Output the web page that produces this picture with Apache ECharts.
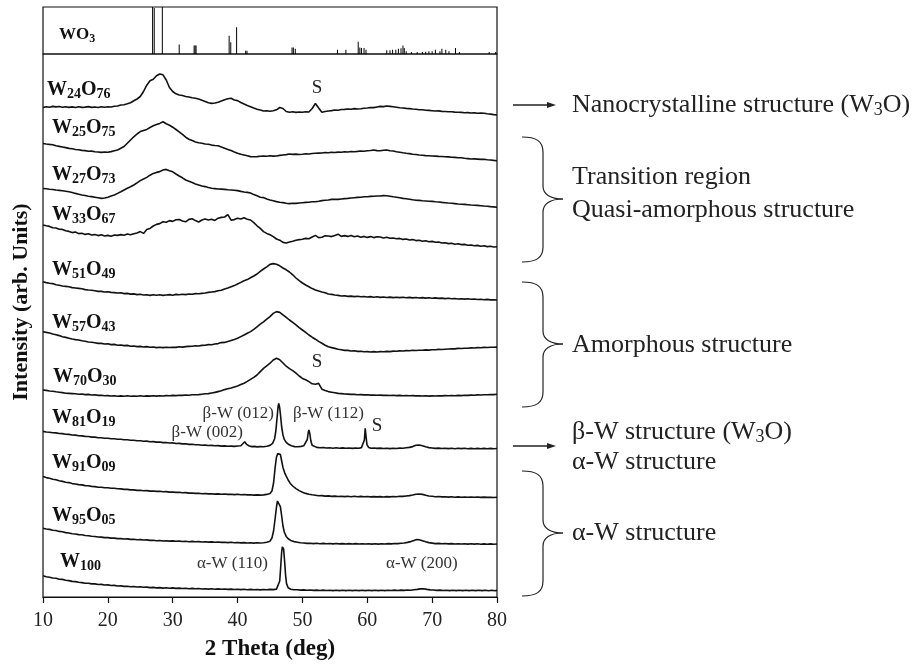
<!DOCTYPE html>
<html>
<head>
<meta charset="utf-8">
<title>XRD patterns of W-O films</title>
<script src="https://cdn.jsdelivr.net/npm/echarts@6/dist/echarts.min.js"></script>
<style>
html, body { margin: 0; background: #fff; }
#chart { width: 916px; height: 665px; }
</style>
</head>
<body>
<div id="chart"></div>
<script>
// 2 theta scan grid (deg), shared by the broad patterns
var theta = [
  10, 10.5, 11, 11.5, 12, 12.5, 13, 13.5, 14, 14.5,
  15, 15.5, 16, 16.5, 17, 17.5, 18, 18.5, 19, 19.5,
  20, 20.5, 21, 21.5, 22, 22.5, 23, 23.5, 24, 24.5,
  25, 25.5, 26, 26.5, 27, 27.5, 28, 28.5, 29, 29.5,
  30, 30.5, 31, 31.5, 32, 32.5, 33, 33.5, 34, 34.5,
  35, 35.5, 36, 36.5, 37, 37.5, 38, 38.5, 39, 39.5,
  40, 40.5, 41, 41.5, 42, 42.5, 43, 43.5, 44, 44.5,
  45, 45.5, 46, 46.5, 47, 47.5, 48, 48.5, 49, 49.5,
  50, 50.5, 51, 51.5, 52, 52.5, 53, 53.5, 54, 54.5,
  55, 55.5, 56, 56.5, 57, 57.5, 58, 58.5, 59, 59.5,
  60, 60.5, 61, 61.5, 62, 62.5, 63, 63.5, 64, 64.5,
  65, 65.5, 66, 66.5, 67, 67.5, 68, 68.5, 69, 69.5,
  70, 70.5, 71, 71.5, 72, 72.5, 73, 73.5, 74, 74.5,
  75, 75.5, 76, 76.5, 77, 77.5, 78, 78.5, 79, 79.5,
  80
];

// stacked intensities (arb. units), offset for display
var w24o76 = [
  489.5, 490.3, 489.8, 490.6, 490.1, 490.5, 489.7, 490.2, 489.6, 490.1,
  489.5, 490.2, 489.6, 489.9, 490.4, 489.6, 490.0, 489.5, 490.3, 489.8,
  490.2, 490.0, 490.8, 491.0, 492.0, 492.3, 493.2, 494.2, 496.2, 498.0,
  500.5, 505.5, 511.8, 516.2, 517.8, 521.2, 523.0, 522.2, 517.0, 509.5,
  505.5, 503.2, 502.0, 501.5, 500.5, 500.0, 499.2, 498.8, 498.0, 496.8,
  495.5, 494.2, 493.6, 494.0, 494.8, 496.0, 497.2, 498.2, 498.8, 497.0,
  496.4, 494.5, 493.0, 491.5, 490.3, 489.0, 487.8, 486.9, 486.0, 486.3,
  485.8, 486.2, 487.2, 489.5, 488.5, 485.5, 484.8, 485.2, 484.6, 485.0,
  484.7, 485.2, 485.0, 488.5, 493.5, 489.0, 484.8, 485.5, 486.0, 486.4,
  487.0, 486.8, 487.5, 487.6, 488.0, 487.7, 488.4, 488.0, 488.3, 488.8,
  489.0, 489.5, 489.4, 490.0, 490.6, 490.4, 491.0, 490.6, 490.2, 489.8,
  489.3, 489.0, 488.6, 488.4, 488.0, 487.8, 487.3, 487.2, 486.8, 486.6,
  486.3, 486.0, 486.1, 485.6, 485.5, 485.3, 485.3, 484.9, 484.8, 484.6,
  484.3, 484.4, 484.0, 484.1, 483.8, 483.9, 483.7, 483.2, 482.9, 482.4,
  482.0
];
var w25o75 = [
  453.5, 453.0, 452.6, 452.3, 451.2, 450.6, 450.0, 449.4, 448.6, 448.2,
  447.5, 447.2, 446.6, 446.4, 445.8, 445.9, 445.2, 445.0, 444.6, 445.0,
  444.7, 445.4, 446.2, 447.0, 448.8, 450.5, 453.8, 457.0, 460.2, 463.0,
  465.4, 466.5, 467.6, 469.5, 471.2, 472.4, 473.6, 475.2, 473.2, 471.8,
  469.8, 467.5, 465.2, 462.6, 459.8, 457.8, 456.4, 455.0, 454.2, 453.8,
  453.0, 452.8, 451.9, 451.5, 451.2, 450.0, 448.8, 447.6, 446.4, 445.0,
  443.8, 442.8, 442.0, 441.2, 440.4, 440.2, 440.4, 440.8, 441.0, 440.7,
  441.2, 440.9, 441.0, 441.6, 442.0, 442.4, 443.0, 442.6, 442.9, 442.5,
  442.7, 443.2, 443.0, 443.5, 443.7, 443.9, 444.0, 444.5, 444.3, 444.8,
  444.5, 444.9, 444.7, 445.2, 445.0, 445.5, 445.3, 445.6, 446.0, 445.8,
  446.3, 446.5, 447.0, 446.4, 446.3, 446.8, 447.0, 446.3, 446.0, 445.2,
  444.8, 444.2, 443.7, 443.4, 442.8, 442.5, 442.0, 441.8, 441.4, 441.2,
  441.0, 440.9, 440.6, 440.5, 440.3, 440.1, 439.8, 439.6, 439.3, 439.2,
  438.7, 438.4, 438.0, 438.1, 437.9, 437.6, 437.7, 437.3, 437.0, 436.6,
  436.3
];
var w27o73 = [
  408.5, 408.2, 407.8, 407.5, 407.0, 406.6, 406.2, 405.8, 405.2, 404.5,
  403.6, 402.8, 402.0, 401.5, 400.8, 400.4, 399.8, 399.2, 398.6, 399.0,
  399.8, 401.0, 402.0, 403.6, 405.2, 407.0, 408.8, 410.2, 412.0, 414.2,
  416.4, 418.0, 419.6, 421.8, 423.6, 424.6, 425.4, 427.0, 427.6, 426.2,
  425.2, 423.0, 421.0, 419.2, 417.0, 415.8, 414.4, 413.0, 412.0, 411.0,
  410.4, 409.5, 408.8, 408.4, 408.0, 407.9, 407.6, 407.2, 407.0, 406.8,
  406.4, 405.6, 405.0, 404.6, 404.0, 402.4, 401.2, 399.8, 399.4, 398.0,
  397.0, 396.2, 395.4, 394.8, 394.4, 393.8, 393.4, 393.8, 393.6, 394.0,
  394.3, 394.6, 394.8, 395.2, 395.3, 395.8, 396.4, 396.8, 397.0, 397.6,
  397.8, 397.6, 398.0, 398.4, 398.6, 399.0, 399.3, 399.6, 399.8, 400.2,
  400.3, 400.6, 400.8, 401.0, 401.0, 401.4, 401.3, 400.8, 400.2, 399.8,
  399.2, 398.6, 398.2, 397.8, 397.2, 396.8, 396.6, 396.2, 396.0, 395.8,
  395.6, 395.2, 395.0, 394.6, 394.3, 394.0, 393.8, 393.4, 393.0, 392.8,
  392.6, 392.3, 392.0, 391.8, 391.6, 391.3, 391.0, 390.8, 390.4, 390.1,
  389.7
];
var w33o67 = [
  372.0, 371.2, 370.6, 369.2, 369.0, 367.8, 367.6, 366.2, 365.6, 364.4,
  365.0, 363.4, 363.8, 362.6, 363.2, 362.0, 362.4, 361.4, 362.2, 361.0,
  361.6, 360.8, 362.0, 361.6, 362.4, 361.8, 363.0, 362.2, 363.2, 364.0,
  365.4, 363.6, 367.4, 368.6, 371.0, 372.6, 373.4, 375.2, 374.8, 376.4,
  375.6, 377.2, 377.4, 376.0, 375.2, 377.6, 378.2, 376.4, 375.0, 377.0,
  378.0, 377.0, 377.8, 376.6, 378.8, 379.6, 380.0, 382.4, 376.8, 377.4,
  378.8, 378.0, 379.2, 377.8, 377.0, 374.4, 371.2, 368.6, 365.4, 363.6,
  362.2, 360.4, 358.0, 356.8, 354.6, 354.0, 355.0, 355.8, 356.8, 357.4,
  357.8, 358.6, 358.2, 360.0, 361.6, 359.4, 359.8, 361.2, 361.0, 360.4,
  361.6, 362.8, 360.6, 361.4, 360.6, 361.6, 360.2, 361.0, 359.8, 360.6,
  359.6, 360.4, 359.4, 360.2, 360.0, 359.0, 359.8, 358.8, 359.0, 358.2,
  358.6, 357.6, 358.0, 357.0, 357.4, 356.4, 356.8, 355.8, 356.2, 355.2,
  355.6, 354.8, 355.0, 354.0, 354.2, 353.4, 353.8, 352.8, 353.2, 352.4,
  352.6, 351.8, 352.0, 351.2, 351.6, 350.8, 351.2, 350.4, 350.8, 350.0,
  350.3
];
var w51o49 = [
  315.2, 314.4, 313.8, 313.4, 312.2, 311.8, 311.0, 310.6, 310.2, 309.4,
  309.0, 308.6, 308.2, 307.4, 307.0, 306.8, 306.2, 305.6, 305.6, 305.0,
  305.2, 304.6, 304.4, 304.0, 304.2, 303.4, 303.6, 302.9, 303.1, 302.4,
  302.8, 302.0, 302.3, 301.6, 302.2, 301.8, 302.2, 301.6, 302.0, 302.4,
  301.8, 302.6, 302.2, 302.8, 302.4, 303.0, 302.8, 303.4, 303.2, 303.6,
  304.0, 304.6, 305.0, 305.4, 306.2, 306.8, 308.0, 309.0, 310.2, 311.4,
  313.0, 314.6, 316.2, 317.4, 319.2, 321.0, 323.0, 325.6, 328.0, 330.2,
  332.6, 333.4, 332.8, 331.2, 329.0, 327.2, 325.0, 322.2, 319.0, 316.4,
  314.0, 312.0, 310.2, 308.4, 307.0, 306.0, 305.0, 304.2, 303.0, 302.6,
  302.0, 301.6, 301.0, 301.2, 300.6, 300.9, 300.4, 300.8, 300.2, 300.5,
  300.0, 300.4, 299.8, 300.2, 299.6, 300.0, 299.5, 299.9, 299.4, 299.8,
  299.4, 299.7, 299.2, 299.6, 299.1, 299.5, 299.0, 299.4, 298.9, 299.2,
  298.8, 299.1, 298.6, 298.9, 298.4, 298.7, 298.2, 298.5, 298.0, 298.3,
  297.9, 298.2, 297.7, 298.0, 297.5, 297.8, 297.3, 297.6, 297.1, 297.3,
  297.0
];
var w57o43 = [
  265.2, 264.6, 264.0, 263.0, 262.2, 261.4, 260.2, 259.6, 258.8, 258.0,
  257.4, 257.0, 256.2, 255.8, 255.0, 254.8, 254.2, 253.6, 253.6, 253.0,
  253.2, 252.4, 252.6, 251.8, 252.0, 251.4, 251.6, 250.8, 251.0, 250.4,
  250.6, 250.0, 250.4, 249.8, 250.0, 249.4, 249.8, 249.4, 249.8, 249.5,
  249.8, 249.6, 250.2, 249.9, 250.4, 250.6, 250.8, 251.2, 251.0, 251.6,
  251.8, 252.4, 252.2, 253.0, 253.4, 254.4, 254.6, 255.6, 256.6, 257.6,
  258.8, 260.4, 262.0, 263.8, 265.4, 267.6, 270.2, 272.8, 275.2, 277.8,
  280.4, 283.6, 285.4, 284.6, 282.2, 279.6, 277.0, 274.6, 272.2, 269.4,
  267.0, 264.6, 262.0, 259.8, 257.8, 255.6, 253.8, 251.8, 250.2, 249.4,
  248.6, 247.8, 247.2, 246.6, 246.6, 246.0, 246.2, 245.6, 245.8, 245.2,
  245.4, 245.0, 245.4, 245.0, 245.4, 245.2, 245.6, 245.4, 245.9, 245.7,
  246.1, 246.0, 246.4, 246.2, 246.7, 246.5, 246.8, 246.7, 247.1, 246.9,
  247.2, 247.3, 247.6, 247.5, 247.8, 248.0, 248.2, 248.1, 248.6, 248.5,
  248.8, 248.8, 249.1, 249.0, 249.4, 249.3, 249.6, 249.5, 249.8, 249.7,
  249.9
];
var w70o30 = [
  207.0, 206.6, 206.0, 205.8, 205.2, 204.8, 204.4, 203.8, 203.6, 203.4,
  203.2, 202.8, 203.0, 202.4, 202.6, 202.0, 202.2, 201.6, 201.8, 201.2,
  201.4, 201.0, 201.3, 200.8, 201.1, 200.8, 201.2, 200.7, 201.0, 200.8,
  201.2, 200.8, 201.1, 200.9, 201.3, 200.9, 201.2, 201.0, 201.4, 201.2,
  201.6, 201.4, 201.8, 201.6, 202.0, 201.8, 202.2, 202.2, 202.4, 202.8,
  203.2, 203.4, 204.0, 204.6, 205.4, 206.2, 207.4, 208.2, 209.0, 210.0,
  211.0, 212.4, 213.8, 215.6, 217.6, 219.6, 222.0, 225.4, 228.6, 231.2,
  233.8, 237.0, 238.8, 237.2, 234.0, 230.8, 228.4, 226.4, 223.8, 221.0,
  218.6, 217.2, 215.4, 213.2, 212.8, 213.6, 207.8, 206.4, 205.4, 204.8,
  204.2, 203.6, 203.4, 203.0, 202.9, 202.6, 202.6, 202.3, 202.4, 202.1,
  202.2, 201.9, 202.0, 201.7, 201.9, 201.6, 201.8, 201.5, 201.7, 201.4,
  201.6, 201.3, 201.5, 201.2, 201.4, 201.1, 201.3, 201.0, 201.2, 200.9,
  201.1, 201.0, 201.3, 201.1, 201.4, 201.2, 201.5, 201.3, 201.6, 201.4,
  201.7, 201.6, 201.9, 201.8, 202.1, 202.0, 202.3, 202.2, 202.5, 202.4,
  202.7
];

// crystalline films: [2theta, stacked intensity], denser around the sharp peaks
var w81o19 = [
  [10,165.6],[10.5,165.0],[11,164.8],[11.5,164.2],[12,164.1],[12.5,163.5],[13,163.4],[13.5,162.7],[14,162.6],[14.5,162.0],
  [15,161.9],[15.5,161.2],[16,161.1],[16.5,160.6],[17,160.5],[17.5,159.9],[18,159.9],[18.5,159.3],[19,159.3],[19.5,158.7],
  [20,158.8],[20.5,158.2],[21,158.2],[21.5,157.7],[22,157.8],[22.5,157.2],[23,157.3],[23.5,156.7],[24,156.8],[24.5,156.2],
  [25,156.3],[25.5,155.8],[26,155.9],[26.5,155.3],[27,155.4],[27.5,154.9],[28,155.0],[28.5,154.4],[29,154.5],[29.5,154.0],
  [30,154.1],[30.5,153.5],[31,153.6],[31.5,153.1],[32,153.2],[32.5,152.6],[33,152.7],[33.5,152.2],[34,152.3],[34.5,151.8],
  [35,151.9],[35.5,151.5],[36,151.6],[36.5,151.2],[37,151.4],[37.5,150.9],[38,151.1],[38.5,150.7],[39,150.9],[39.5,150.6],
  [40,151.0],[40.5,151.3],[40.8,153.0],[41.1,155.2],[41.4,152.6],[41.8,151.0],[42.2,150.4],[42.6,150.6],[43,150.1],[43.5,150.4],
  [44,150.2],[44.5,150.8],[45,151.6],[45.4,153.6],[45.7,158.0],[45.9,166.0],[46.1,180.0],[46.25,190.5],[46.35,193.6],[46.5,189.0],
  [46.65,180.0],[46.8,170.0],[47,162.0],[47.2,157.6],[47.5,154.6],[47.9,152.4],[48.3,151.2],[48.8,150.4],[49.3,150.2],[49.8,150.6],
  [50.2,151.2],[50.5,152.6],[50.75,157.5],[50.9,164.5],[51.0,167.0],[51.15,163.0],[51.3,156.0],[51.5,151.8],[51.8,150.0],[52.2,149.6],
  [52.7,149.2],[53.2,149.5],[53.7,149.0],[54.2,149.3],[54.7,148.8],[55.2,149.2],[55.7,148.8],[56.2,149.1],[56.7,148.7],[57.2,149.0],
  [57.7,148.6],[58.2,149.0],[58.7,148.8],[59.1,149.4],[59.4,151.0],[59.55,157.0],[59.68,168.6],[59.8,161.0],[59.95,152.4],[60.2,149.6],
  [60.6,148.7],[61,149.0],[61.5,148.6],[62,148.9],[62.5,148.5],[63,148.8],[63.5,148.4],[64,148.8],[64.5,148.5],[65,148.9],
  [65.5,148.7],[66,149.2],[66.5,149.6],[67,150.4],[67.5,151.8],[68,152.0],[68.5,151.2],[69,150.2],[69.5,149.4],[70,149.0],
  [70.5,148.6],[71,148.9],[71.5,148.5],[72,148.8],[72.5,148.4],[73,148.7],[73.5,148.3],[74,148.7],[74.5,148.4],[75,148.7],
  [75.5,148.3],[76,148.6],[76.5,148.3],[77,148.6],[77.5,148.2],[78,148.6],[78.5,148.3],[79,148.6],[79.5,148.2],[80,148.5]
];
var w91o09 = [
  [10,120.4],[10.5,119.4],[11,118.8],[11.5,117.8],[12,117.2],[12.5,116.2],[13,115.6],[13.5,114.8],[14,114.4],[14.5,113.4],
  [15,113.0],[15.5,112.4],[16,112.1],[16.5,111.4],[17,111.2],[17.5,110.6],[18,110.4],[18.5,109.8],[19,109.8],[19.5,109.2],
  [20,109.3],[20.5,108.7],[21,108.8],[21.5,108.2],[22,108.1],[22.5,107.6],[23,107.6],[23.5,107.1],[24,107.1],[24.5,106.6],
  [25,106.7],[25.5,106.3],[26,106.4],[26.5,105.9],[27,106.0],[27.5,105.6],[28,105.7],[28.5,105.3],[29,105.4],[29.5,104.9],
  [30,105.0],[30.5,104.6],[31,104.7],[31.5,104.2],[32,104.4],[32.5,103.9],[33,104.0],[33.5,103.6],[34,103.8],[34.5,103.3],
  [35,103.5],[35.5,103.1],[36,103.3],[36.5,102.9],[37,103.1],[37.5,102.7],[38,103.0],[38.5,102.6],[39,102.8],[39.5,102.4],
  [40,102.7],[40.5,102.3],[41,102.5],[41.5,102.1],[42,102.3],[42.5,101.9],[43,102.1],[43.5,101.9],[44,102.1],[44.5,102.6],
  [45,103.6],[45.3,106.0],[45.55,114.0],[45.8,130.0],[46.0,140.0],[46.2,143.6],[46.4,144.4],[46.6,142.6],[46.8,136.0],[47.0,129.6],
  [47.25,124.4],[47.5,120.8],[47.8,117.0],[48.1,113.8],[48.5,111.0],[49,108.4],[49.5,106.4],[50,104.8],[50.5,103.6],[51,102.8],
  [51.5,102.2],[52,101.8],[52.5,101.2],[53,101.4],[53.5,100.9],[54,101.1],[54.5,100.6],[55,100.9],[55.5,100.5],[56,100.8],
  [56.5,100.4],[57,100.7],[57.5,100.3],[58,100.7],[58.5,100.3],[59,100.6],[59.5,100.2],[60,100.5],[60.5,100.1],[61,100.4],
  [61.5,100.1],[62,100.4],[62.5,100.0],[63,100.4],[63.5,100.1],[64,100.5],[64.5,100.3],[65,100.7],[65.5,100.6],[66,101.0],
  [66.5,101.4],[67,102.0],[67.5,102.8],[68,103.0],[68.5,102.6],[69,101.8],[69.5,101.0],[70,100.7],[70.5,100.3],[71,100.5],
  [71.5,100.1],[72,100.3],[72.5,99.9],[73,100.2],[73.5,99.8],[74,100.1],[74.5,99.8],[75,100.0],[75.5,99.7],[76,100.0],
  [76.5,99.7],[77,100.0],[77.5,99.6],[78,99.9],[78.5,99.6],[79,99.8],[79.5,99.5],[80,99.7]
];
var w95o05 = [
  [10,68.8],[10.5,68.0],[11,67.6],[11.5,66.8],[12,66.5],[12.5,65.6],[13,65.2],[13.5,64.4],[14,64.0],[14.5,63.2],
  [15,63.0],[15.5,62.4],[16,62.2],[16.5,61.5],[17,61.3],[17.5,60.7],[18,60.5],[18.5,60.0],[19,59.9],[19.5,59.4],
  [20,59.4],[20.5,58.9],[21,58.9],[21.5,58.4],[22,58.4],[22.5,58.0],[23,58.1],[23.5,57.6],[24,57.8],[24.5,57.3],
  [25,57.4],[25.5,57.0],[26,57.1],[26.5,56.6],[27,56.8],[27.5,56.3],[28,56.5],[28.5,56.0],[29,56.3],[29.5,55.9],
  [30,56.1],[30.5,55.7],[31,55.9],[31.5,55.5],[32,55.8],[32.5,55.3],[33,55.6],[33.5,55.2],[34,55.4],[34.5,55.0],
  [35,55.3],[35.5,54.9],[36,55.1],[36.5,54.7],[37,55.0],[37.5,54.6],[38,54.8],[38.5,54.4],[39,54.7],[39.5,54.3],
  [40,54.5],[40.5,54.1],[41,54.4],[41.5,54.0],[42,54.3],[42.5,53.9],[43,54.2],[43.5,54.0],[44,54.3],[44.5,54.8],
  [45,55.8],[45.3,59.0],[45.55,66.0],[45.8,79.0],[46.0,90.0],[46.15,96.0],[46.3,97.8],[46.45,96.0],[46.6,90.4],[46.8,81.0],
  [47.0,71.0],[47.2,65.0],[47.5,60.6],[47.8,58.2],[48.2,56.6],[48.7,55.4],[49.2,54.8],[49.7,54.2],[50.2,54.0],[50.7,53.6],
  [51.2,53.8],[51.7,53.4],[52.2,53.7],[52.7,53.3],[53.2,53.6],[53.7,53.2],[54.2,53.5],[54.7,53.1],[55.2,53.5],[55.7,53.1],
  [56.2,53.4],[56.7,53.0],[57.2,53.4],[57.7,53.0],[58.2,53.4],[58.7,53.0],[59.2,53.3],[59.7,53.0],[60.2,53.3],[60.7,52.9],
  [61.2,53.3],[61.7,52.9],[62.2,53.3],[62.7,53.0],[63.2,53.4],[63.7,53.1],[64.2,53.5],[64.7,53.4],[65.2,53.8],[65.7,54.0],
  [66.2,54.6],[66.7,55.4],[67.2,56.6],[67.6,57.4],[68,57.2],[68.5,56.2],[69,55.2],[69.5,54.4],[70,53.9],[70.5,53.4],
  [71,53.6],[71.5,53.2],[72,53.5],[72.5,53.1],[73,53.4],[73.5,53.0],[74,53.3],[74.5,53.0],[75,53.3],[75.5,52.9],
  [76,53.2],[76.5,52.9],[77,53.2],[77.5,52.8],[78,53.1],[78.5,52.8],[79,53.1],[79.5,52.7],[80,53.0]
];
var w100 = [
  [10,21.2],[10.5,20.2],[11,19.8],[11.5,19.0],[12,18.8],[12.5,17.8],[13,17.6],[13.5,16.8],[14,16.4],[14.5,15.6],
  [15,15.4],[15.5,14.8],[16,14.4],[16.5,13.8],[17,13.7],[17.5,13.1],[18,13.1],[18.5,12.5],[19,12.6],[19.5,12.0],
  [20,12.1],[20.5,11.5],[21,11.6],[21.5,11.0],[22,11.1],[22.5,10.6],[23,10.8],[23.5,10.3],[24,10.5],[24.5,10.0],
  [25,10.2],[25.5,9.7],[26,9.9],[26.5,9.4],[27,9.6],[27.5,9.1],[28,9.4],[28.5,8.9],[29,9.2],[29.5,8.8],
  [30,9.1],[30.5,8.6],[31,8.9],[31.5,8.5],[32,8.8],[32.5,8.3],[33,8.6],[33.5,8.2],[34,8.5],[34.5,8.0],
  [35,8.3],[35.5,7.9],[36,8.2],[36.5,7.8],[37,8.1],[37.5,7.7],[38,8.0],[38.5,7.6],[39,7.9],[39.5,7.5],
  [40,7.8],[40.5,7.4],[41,7.7],[41.5,7.3],[42,7.6],[42.5,7.2],[43,7.5],[43.5,7.1],[44,7.5],[44.5,7.2],
  [45,7.6],[45.5,7.4],[46,7.9],[46.3,9.2],[46.5,16.0],[46.65,30.0],[46.8,45.0],[46.9,50.2],[47.0,51.0],[47.1,48.0],
  [47.25,36.0],[47.4,22.0],[47.55,13.4],[47.8,9.2],[48.2,7.8],[48.7,7.2],[49.2,7.3],[49.7,6.9],[50.2,7.1],[50.7,6.7],
  [51.2,7.0],[51.7,6.6],[52.2,6.9],[52.7,6.5],[53.2,6.9],[53.7,6.5],[54.2,6.8],[54.7,6.4],[55.2,6.8],[55.7,6.4],
  [56.2,6.8],[56.7,6.4],[57.2,6.8],[57.7,6.4],[58.2,6.8],[58.7,6.4],[59.2,6.8],[59.7,6.4],[60.2,6.8],[60.7,6.4],
  [61.2,6.8],[61.7,6.4],[62.2,6.8],[62.7,6.4],[63.2,6.8],[63.7,6.5],[64.2,6.9],[64.7,6.5],[65.2,6.9],[65.7,6.6],
  [66.2,7.0],[66.7,6.8],[67.2,7.3],[67.7,7.6],[68.2,8.1],[68.7,8.2],[69.2,7.6],[69.7,7.1],[70.2,7.0],[70.7,6.6],
  [71.2,6.9],[71.7,6.5],[72.2,6.8],[72.7,6.4],[73.2,6.8],[73.7,6.4],[74.2,6.8],[74.7,6.4],[75.2,6.8],[75.7,6.4],
  [76.2,6.8],[76.7,6.4],[77.2,6.7],[77.7,6.4],[78.2,6.7],[78.7,6.3],[79.2,6.7],[79.7,6.3],[80,6.6]
];

// WO3 reference pattern: [2theta, relative intensity %]
var wo3Sticks = [
  [26.9,100],[27.15,98],[28.4,100],[31.0,20],[33.3,18],[33.45,18],[33.6,18],
  [38.7,39],[38.95,25],[39.85,57],[41.25,7],[41.45,7],
  [48.4,14],[48.6,14],[48.9,11],[55.4,9],[56.7,9],
  [58.6,26],[58.85,14],[59.1,13],[59.5,13],[59.8,9],
  [63.0,8],[63.5,8],[63.9,9],[64.4,9],[64.8,11],[65.2,12],[65.5,18],[65.7,13],[66.0,6],
  [66.8,4],[67.7,4],[68.5,4],[69.0,5],[69.5,6],[70.0,6],[70.5,9],[71.2,6],[71.5,11],
  [72.1,9],[72.6,6],[73.6,13],[74.2,4],[78.8,4],[79.8,4]
];

var xTicks = [10, 20, 30, 40, 50, 60, 70, 80];

var SERIF = '"Liberation Serif", "Times New Roman", serif';

function onGrid(vals) {
  return theta.map(function (t, i) { return [t, vals[i]]; });
}

var curves = [
  onGrid(w24o76), onGrid(w25o75), onGrid(w27o73), onGrid(w33o67),
  onGrid(w51o49), onGrid(w57o43), onGrid(w70o30),
  w81o19, w91o09, w95o05, w100
];

var series = [{
  type: 'bar',
  xAxisIndex: 0,
  yAxisIndex: 0,
  barWidth: 1,
  itemStyle: {color: '#000'},
  data: wo3Sticks
}];
curves.forEach(function (c) {
  series.push({
    type: 'line',
    xAxisIndex: 1,
    yAxisIndex: 1,
    showSymbol: false,
    symbol: 'none',
    lineStyle: {color: '#111', width: 1.6},
    data: c
  });
});

// ---- text helpers ----
function formula(parts) {
  var s = '';
  for (var i = 0; i < parts.length; i++) {
    s += (i % 2 === 0 ? '{b|' : '{s|') + parts[i] + '}';
  }
  return s;
}
function boldRich(size, sub, drop) {
  return {
    b: {fontFamily: SERIF, fontWeight: 'bold', fontSize: size, fill: '#111'},
    s: {fontFamily: SERIF, fontWeight: 'bold', fontSize: sub, fill: '#111', padding: [drop, 0, 0, 0]}
  };
}
var plainRich = {
  n: {fontFamily: SERIF, fontSize: 26, fill: '#222'},
  u: {fontFamily: SERIF, fontSize: 18, fill: '#222', padding: [11, 0, 0, 0]}
};

function text(x, y, str, opt) {
  opt = opt || {};
  return {
    type: 'text',
    x: x,
    y: y,
    rotation: opt.rotation || 0,
    style: {
      text: str,
      fontFamily: SERIF,
      fontSize: opt.size || 17,
      fontWeight: opt.weight || 'normal',
      fill: opt.color || '#333',
      rich: opt.rich,
      textAlign: opt.align || 'left',
      textVerticalAlign: 'middle'
    }
  };
}

var filmLabels = [
  [['W', '24', 'O', '76'], 47, 90],
  [['W', '25', 'O', '75'], 52, 128],
  [['W', '27', 'O', '73'], 52, 175],
  [['W', '33', 'O', '67'], 52, 215],
  [['W', '51', 'O', '49'], 52, 270],
  [['W', '57', 'O', '43'], 52, 323],
  [['W', '70', 'O', '30'], 53, 377],
  [['W', '81', 'O', '19'], 52, 418],
  [['W', '91', 'O', '09'], 52, 463],
  [['W', '95', 'O', '05'], 52, 516],
  [['W', '100'], 60, 562]
];

var graphic = [];
graphic.push(text(59, 35, formula(['WO', '3']), {rich: boldRich(17, 12, 7)}));
filmLabels.forEach(function (f) {
  graphic.push(text(f[1], f[2], formula(f[0]), {rich: boldRich(20, 14, 9)}));
});

// peak annotations
graphic.push(text(268, 564, 'α-W (110)', {align: 'right'}));
graphic.push(text(386, 564, 'α-W (200)'));
graphic.push(text(274, 414, 'β-W (012)', {align: 'right'}));
graphic.push(text(293, 414, 'β-W (112)'));
graphic.push(text(243, 433, 'β-W (002)', {align: 'right'}));
graphic.push(text(317, 88, 'S', {align: 'center', size: 19, color: '#222'}));
graphic.push(text(317, 362, 'S', {align: 'center', size: 19, color: '#222'}));
graphic.push(text(377, 426, 'S', {align: 'center', size: 19, color: '#222'}));

// y axis title spans both panels
graphic.push(text(21, 302, 'Intensity (arb. Units)', {
  align: 'center', size: 22, weight: 'bold', color: '#111', rotation: Math.PI / 2
}));

// right side structure notes
var noteStroke = {stroke: '#222', lineWidth: 1.2, fill: null};
function arrow(y) {
  graphic.push({type: 'line', shape: {x1: 513, y1: y, x2: 550, y2: y}, style: {stroke: '#222', lineWidth: 1.3}});
  graphic.push({type: 'polygon', shape: {points: [[556, y], [547, y - 3], [547, y + 3]]}, style: {fill: '#222'}});
}
function curve(x1, y1, c1x, c1y, c2x, c2y, x2, y2) {
  graphic.push({
    type: 'bezierCurve',
    shape: {x1: x1, y1: y1, cpx1: c1x, cpy1: c1y, cpx2: c2x, cpy2: c2y, x2: x2, y2: y2},
    style: noteStroke
  });
}
function seg(x1, y1, x2, y2) {
  graphic.push({type: 'line', shape: {x1: x1, y1: y1, x2: x2, y2: y2}, style: noteStroke});
}
function brace(top, mid, bot) {
  curve(522, top, 536, top, 543, top + 4, 543, top + 15);
  seg(543, top + 15, 543, mid - 13);
  curve(543, mid - 13, 543, mid - 5, 550, mid, 563, mid);
  curve(563, mid, 550, mid, 543, mid + 5, 543, mid + 13);
  seg(543, mid + 13, 543, bot - 15);
  curve(543, bot - 15, 543, bot - 4, 536, bot, 522, bot);
}
function note(y, str) {
  graphic.push(text(572, y, str, {rich: plainRich, size: 26, color: '#222'}));
}

arrow(105);
note(105, '{n|Nanocrystalline structure (W}{u|3}{n|O)}');
brace(137, 199, 262);
note(177, '{n|Transition region}');
note(210, '{n|Quasi-amorphous structure}');
brace(282, 344, 407);
note(345, '{n|Amorphous structure}');
arrow(446);
note(432, '{n|β-W structure (W}{u|3}{n|O)}');
note(462, '{n|α-W structure}');
brace(471, 533, 596);
note(533, '{n|α-W structure}');

var chart = echarts.init(document.getElementById('chart'));
chart.setOption({
  animation: false,
  backgroundColor: '#fff',
  grid: [
    {left: 43, right: 419, top: 7, height: 47, show: true, borderColor: '#111', borderWidth: 1.2, outerBoundsMode: 'none', containLabel: false},
    {left: 43, right: 419, top: 54, height: 543, show: true, borderColor: '#111', borderWidth: 1.2, outerBoundsMode: 'none', containLabel: false}
  ],
  xAxis: [{
    gridIndex: 0, type: 'value', min: 10, max: 80, interval: 10,
    axisLine: {show: false}, axisTick: {show: false}, axisLabel: {show: false}, splitLine: {show: false}
  }, {
    gridIndex: 1, type: 'value', min: 10, max: 80, interval: 10,
    name: '2 Theta (deg)', nameLocation: 'middle', nameGap: 41,
    nameTextStyle: {fontFamily: SERIF, fontSize: 23, fontWeight: 'bold', color: '#111'},
    axisLine: {lineStyle: {color: '#111', width: 1.2}},
    axisTick: {length: 6, lineStyle: {color: '#111', width: 1.2}},
    axisLabel: {
      fontFamily: SERIF, fontSize: 20, color: '#222', margin: 14,
      formatter: function (v) { return xTicks.indexOf(v) >= 0 ? String(v) : ''; }
    },
    splitLine: {show: false}
  }],
  yAxis: [
    {gridIndex: 0, type: 'value', min: 0, max: 100, show: false},
    {gridIndex: 1, type: 'value', min: 0, max: 543, show: false}
  ],
  series: series,
  graphic: graphic
});
</script>
</body>
</html>
